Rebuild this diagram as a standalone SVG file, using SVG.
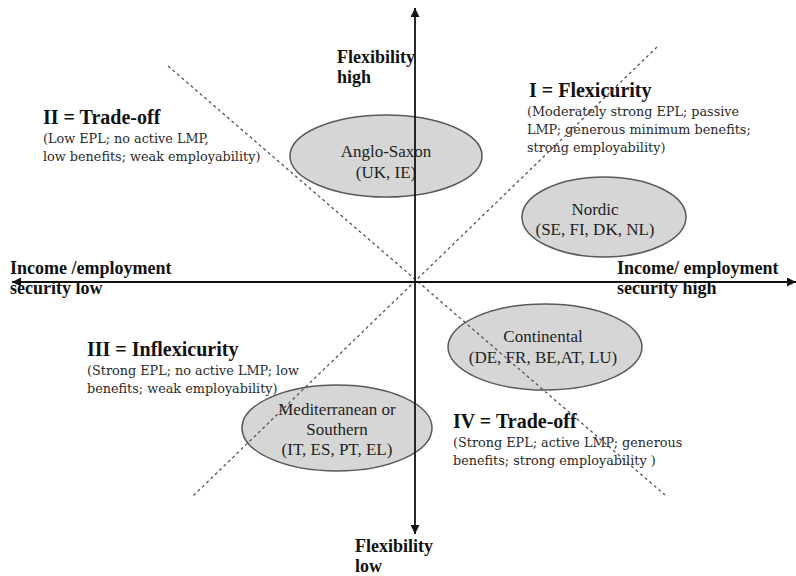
<svg xmlns="http://www.w3.org/2000/svg" width="796" height="576" viewBox="0 0 796 576">
<style>
.bg{fill:#ffffff}
.node{fill:#d6d6d6;stroke:#5a5a5a;stroke-width:1.5}
.nt{font-family:"Liberation Serif",serif;font-size:17px;fill:#1e1e1e;text-anchor:middle}
.title{font-family:"Liberation Serif",serif;font-size:20px;font-weight:bold;fill:#111}
.sub{font-family:"DejaVu Serif",serif;font-size:12.8px;fill:#2a2a2a}
.ax{font-family:"Liberation Serif",serif;font-size:18px;font-weight:bold;fill:#111}
.axis{stroke:#111;stroke-width:1.8;fill:none}
.diag{stroke:#555;stroke-width:1.3;stroke-dasharray:3,3;fill:none}
</style>
<defs>
<marker id="arr" viewBox="0 0 10 10" refX="10" refY="5" markerWidth="5" markerHeight="5" orient="auto" markerUnits="strokeWidth">
<path d="M0,0 L10,5 L0,10 z" fill="#111"/>
</marker>
</defs>
<rect class="bg" x="0" y="0" width="796" height="576"/>

<g id="anglo-saxon">
<ellipse class="node" cx="386" cy="156" rx="96" ry="41"/>
<text class="nt" x="386" y="157">Anglo-Saxon</text>
<text class="nt" x="386" y="178">(UK, IE)</text>
</g>
<g id="nordic">
<ellipse class="node" cx="604" cy="217" rx="82" ry="40"/>
<text class="nt" x="595" y="215">Nordic</text>
<text class="nt" x="595" y="235">(SE, FI, DK, NL)</text>
</g>
<g id="continental">
<ellipse class="node" cx="545" cy="347" rx="97" ry="43"/>
<text class="nt" x="543" y="342">Continental</text>
<text class="nt" x="543" y="363">(DE, FR, BE,AT, LU)</text>
</g>
<g id="mediterranean">
<ellipse class="node" cx="337" cy="428" rx="95" ry="43"/>
<text class="nt" x="337" y="415">Mediterranean or</text>
<text class="nt" x="337" y="435">Southern</text>
<text class="nt" x="337" y="455">(IT, ES, PT, EL)</text>
</g>

<g id="q2-tradeoff">
<text class="title" x="43" y="124">II = Trade-off</text>
<text class="sub" x="43" y="143">(Low EPL; no active LMP,</text>
<text class="sub" x="43" y="161">low benefits; weak employability)</text>
</g>
<g id="q1-flexicurity">
<text class="title" x="529" y="97">I = Flexicurity</text>
<text class="sub" x="527" y="116">(Moderately strong EPL; passive</text>
<text class="sub" x="527" y="134">LMP; generous minimum benefits;</text>
<text class="sub" x="527" y="152">strong employability)</text>
</g>
<g id="q3-inflexicurity">
<text class="title" x="87" y="356">III = Inflexicurity</text>
<text class="sub" x="87" y="375">(Strong EPL; no active LMP; low</text>
<text class="sub" x="87" y="393">benefits; weak employability)</text>
</g>
<g id="q4-tradeoff">
<text class="title" x="453" y="428">IV = Trade-off</text>
<text class="sub" x="453" y="447">(Strong EPL; active LMP; generous</text>
<text class="sub" x="453" y="465">benefits; strong employability )</text>
</g>

<g id="axis-labels">
<text class="ax" x="337" y="63">Flexibility</text>
<text class="ax" x="337" y="83">high</text>
<text class="ax" x="355" y="552">Flexibility</text>
<text class="ax" x="355" y="572">low</text>
<text class="ax" x="10" y="274">Income /employment</text>
<text class="ax" x="10" y="294">security low</text>
<text class="ax" x="617" y="274">Income/ employment</text>
<text class="ax" x="617" y="294">security high</text>
</g>

<g id="connectors">
<line class="diag" x1="168" y1="66" x2="665" y2="495"/>
<line class="diag" x1="657" y1="47" x2="193" y2="496"/>
<line class="axis" x1="415" y1="282" x2="415" y2="8" marker-end="url(#arr)"/>
<line class="axis" x1="415" y1="282" x2="415" y2="534" marker-end="url(#arr)"/>
<line class="axis" x1="415" y1="282" x2="12" y2="282" marker-end="url(#arr)"/>
<line class="axis" x1="415" y1="282" x2="796" y2="282" marker-end="url(#arr)"/>
</g>
</svg>
